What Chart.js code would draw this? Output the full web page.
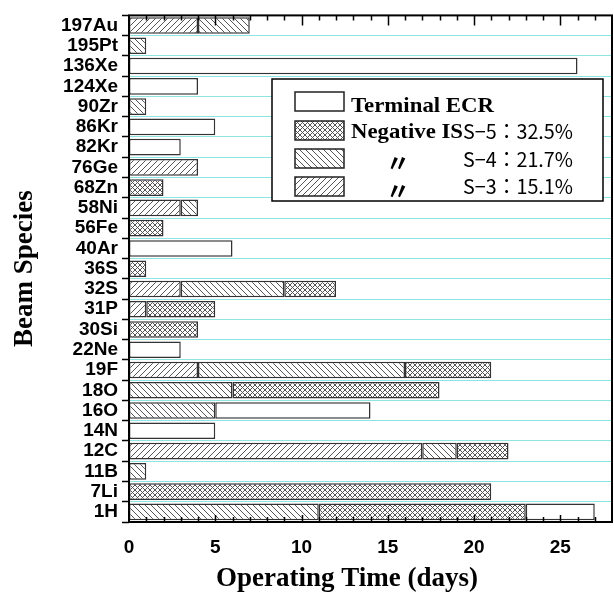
<!DOCTYPE html>
<html lang="en">
<head>
<meta charset="UTF-8" />
<title>Operating Time by Beam Species</title>
<style>
  html, body { margin: 0; padding: 0; background: #fff; }
  canvas { display: block; }
</style>
</head>
<body>
<canvas id="timeChart" width="614" height="601"></canvas>

<script src="https://cdn.jsdelivr.net/npm/chart.js"></script>
<script>
  // beam species, top to bottom
  const species = ['197Au', '195Pt', '136Xe', '124Xe', '90Zr', '86Kr', '82Kr', '76Ge', '68Zn',
    '58Ni', '56Fe', '40Ar', '36S', '32S', '31P', '30Si', '22Ne', '19F', '18O', '16O', '14N',
    '12C', '11B', '7Li', '1H'];

  // operating days per ion source (null = not used)
  const s3Days = [4, null, null, null, null, null, null, 4, null, 3, null, null, null, 3, 1,
    null, null, 4, null, null, null, 17, null, null, null];
  const s4Days = [3, 1, null, null, 1, null, null, null, null, 1, null, null, null, 6, null,
    null, null, 12, 6, 5, null, 2, 1, null, 11];
  const s5Days = [null, null, null, null, null, null, null, null, 2, null, 2, null, 1, 3, 4,
    4, null, 5, 12, null, null, 3, null, 21, 12];
  const ecrDays = [null, null, 26, 4, null, 5, 3, null, null, null, null, 6, null, null, null,
    null, 3, null, null, 9, 5, null, null, null, 4];

  const xTickLabels = [0, 5, 10, 15, 20, 25];
  const xMax = 28;

  // small repeating tiles for the hatched fills
  function hatch(kind, size) {
    const c = document.createElement('canvas');
    c.width = size; c.height = size;
    const g = c.getContext('2d');
    g.fillStyle = '#fff';
    g.fillRect(0, 0, size, size);
    g.strokeStyle = '#555';
    g.lineWidth = 1;
    g.beginPath();
    if (kind === 'slash' || kind === 'cross') {
      g.moveTo(-1, size + 1); g.lineTo(size + 1, -1);
      g.moveTo(-1, 1); g.lineTo(1, -1);
      g.moveTo(size - 1, size + 1); g.lineTo(size + 1, size - 1);
    }
    if (kind === 'back' || kind === 'cross') {
      g.moveTo(-1, -1); g.lineTo(size + 1, size + 1);
      g.moveTo(size - 1, -1); g.lineTo(size + 1, 1);
      g.moveTo(-1, size - 1); g.lineTo(1, size + 1);
    }
    g.stroke();
    return g.createPattern(c, 'repeat');
  }

  const fillS3 = hatch('slash', 6);
  const fillS4 = hatch('back', 6);
  const fillS5 = hatch('cross', 5);
  const fillECR = '#fff';

  const serifBold = (px) => `bold ${px}px "Liberation Serif", "Times New Roman", serif`;

  // draw text squeezed/stretched to a given width
  function fitText(ctx, text, x, y, width) {
    const w = ctx.measureText(text).width;
    ctx.save();
    ctx.translate(x, y);
    ctx.scale(width / w, 1);
    ctx.fillText(text, 0, 0);
    ctx.restore();
  }

  const framePlugin = {
    id: 'frame',
    afterDraw(chart) {
      const ctx = chart.ctx;
      const { left, right, top, bottom } = chart.chartArea;
      const xs = chart.scales.x;

      ctx.save();
      ctx.strokeStyle = '#000';

      // minor/major ticks on top and bottom edges, pointing inward
      ctx.lineWidth = 1.5;
      ctx.beginPath();
      for (let d = 1; d < xMax; d++) {
        const px = Math.round(xs.getPixelForValue(d)) + 0.5;
        const major = d % 5 === 0;
        ctx.moveTo(px, top); ctx.lineTo(px, top + (major ? 10 : 5));
        ctx.moveTo(px, bottom); ctx.lineTo(px, bottom - (major ? 7 : 5));
      }
      ctx.stroke();

      // plot frame
      ctx.lineWidth = 2;
      ctx.strokeRect(left, top, right - left, bottom - top);

      // legend box
      const lx = 272, ly = 79, lw = 331, lh = 122;
      ctx.fillStyle = '#fff';
      ctx.fillRect(lx, ly, lw, lh);
      ctx.lineWidth = 1.5;
      ctx.strokeRect(lx, ly, lw, lh);

      const rows = [
        { fill: fillECR, y: 92 },
        { fill: fillS5, y: 121 },
        { fill: fillS4, y: 149 },
        { fill: fillS3, y: 177 }
      ];
      rows.forEach(r => {
        ctx.fillStyle = r.fill;
        ctx.fillRect(295, r.y, 49, 19);
        ctx.lineWidth = 1.5;
        ctx.strokeStyle = '#222';
        ctx.strokeRect(295, r.y, 49, 19);
      });

      ctx.fillStyle = '#000';
      ctx.textAlign = 'left';
      ctx.textBaseline = 'alphabetic';
      ctx.font = serifBold(22);
      fitText(ctx, 'Terminal ECR', 351, 112, 143);
      fitText(ctx, 'Negative IS', 351, 138, 112);

      ctx.font = '20px "Noto Sans CJK JP", "Noto Sans", sans-serif';
      fitText(ctx, 'S\u22125\uFF1A32.5%', 463, 139, 110);
      fitText(ctx, 'S\u22124\uFF1A21.7%', 463, 167, 110);
      fitText(ctx, 'S\u22123\uFF1A15.1%', 463, 194, 110);

      ctx.font = 'bold 24px "Noto Sans CJK JP", sans-serif';
      ctx.textBaseline = 'middle';
      ctx.fillText('\u3003', 386, 163);
      ctx.fillText('\u3003', 386, 191);
      ctx.textBaseline = 'alphabetic';

      // axis titles
      ctx.font = serifBold(27);
      ctx.textAlign = 'center';
      ctx.fillText('Operating Time (days)', 347, 586);

      ctx.save();
      ctx.translate(32, (top + bottom) / 2);
      ctx.rotate(-Math.PI / 2);
      ctx.fillText('Beam Species', 0, 0);
      ctx.restore();

      ctx.restore();
    }
  };

  const ctx = document.getElementById('timeChart').getContext('2d');
  const timeChart = new Chart(ctx, {
    type: 'bar',
    data: {
      labels: species,
      datasets: [
        { label: 'S-3', data: s3Days, backgroundColor: fillS3 },
        { label: 'S-4', data: s4Days, backgroundColor: fillS4 },
        { label: 'S-5', data: s5Days, backgroundColor: fillS5 },
        { label: 'Terminal ECR', data: ecrDays, backgroundColor: fillECR }
      ]
    },
    options: {
      indexAxis: 'y',
      responsive: false,
      animation: false,
      devicePixelRatio: 1,
      layout: { padding: { top: 11, right: 2, left: 0, bottom: 0 } },
      datasets: {
        bar: {
          barPercentage: 0.82,
          categoryPercentage: 1,
          borderColor: '#333',
          borderWidth: 1.5,
          borderSkipped: false
        }
      },
      plugins: {
        legend: { display: false },
        tooltip: { enabled: false }
      },
      scales: {
        x: {
          type: 'linear',
          stacked: true,
          min: 0,
          max: xMax,
          afterFit: s => { s.height = 79; },
          afterBuildTicks: s => { s.ticks = xTickLabels.map(v => ({ value: v })); },
          grid: { display: false },
          border: { display: false },
          ticks: {
            color: '#000',
            maxRotation: 0,
            padding: 6,
            font: { family: 'Liberation Sans', size: 19, weight: 'bold' }
          }
        },
        y: {
          stacked: true,
          afterFit: s => { s.width = 129; },
          grid: {
            offset: true,
            color: '#8ce4e4',
            lineWidth: 1,
            tickColor: '#000',
            tickLength: 7,
            tickWidth: 1.5
          },
          border: { display: false },
          ticks: {
            color: '#000',
            autoSkip: false,
            padding: 4,
            font: { family: 'Liberation Sans', size: 19, weight: 'bold' }
          }
        }
      }
    },
    plugins: [framePlugin]
  });
</script>
</body>
</html>
